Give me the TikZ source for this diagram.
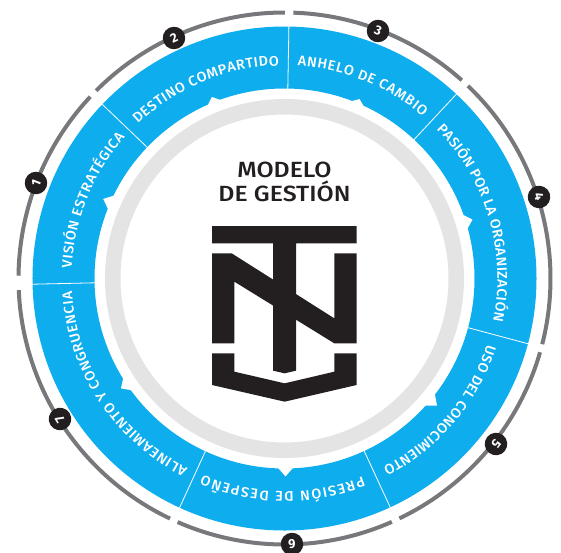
\documentclass[tikz,border=0pt]{standalone}
\usepackage{fontspec}
\usetikzlibrary{decorations.text}
\setmainfont{Fira Sans}
\newfontfamily\ringfont[FakeStretch=1.03]{Fira Sans Medium}
\newfontfamily\titlefont[FakeStretch=1.13]{Fira Sans Medium}
\definecolor{ringblue}{HTML}{0EADEE}
\definecolor{ringgray}{HTML}{E4E4E4}
\definecolor{linegray}{HTML}{77787B}
\definecolor{logoblack}{HTML}{231F20}
\tikzset{
  outerarc/.style={draw=linegray,line width=4pt,line cap=butt},
  divider/.style={draw=white,line width=0.8pt},
  notch/.style={fill=white},
  badge/.style={circle,fill=logoblack,text=white,minimum size=22.5pt,inner sep=0pt,font=\bfseries\fontsize{13}{13}\selectfont},
  logopart/.style={fill=logoblack},
  logoscale/.style={shift={(-84.5pt,128.5pt)},x=0.33333pt,y=-0.33333pt},
  ringtext/.style={decorate,decoration={text along path,raise=0pt,text align={fit to path},
    text={|\ringfont\fontsize{14}{14}\selectfont\color{white}|#1}}},
  title/.style={align=center,text=logoblack,font=\titlefont\fontsize{22}{23.3}\selectfont}
}
\begin{document}
\begin{tikzpicture}[x=1pt,y=1pt]
\useasboundingbox (-284.5,-273.5) rectangle (276.5,278.5);
% blue ring
\fill[ringblue,even odd rule] (0,0) circle[radius=252pt] (0,0) circle[radius=190pt];
% gray inner ring
\fill[ringgray,even odd rule] (0,0) circle[radius=179.5pt] (0,0) circle[radius=164pt];
% dividers
\foreach \a in {136.3,89,47,-15,-65.2,-114.6,181.3}
  \draw[divider] (\a:189pt) -- (\a:252.5pt);
% notches
\foreach \a/\h in {156.3/198,111.8/195.5,67.3/194.5,17.4/197,-39.8/198.5,-89.7/198,-146.1/197}
  \fill[notch] ({\a-2.7}:188pt) -- (\a:\h pt) -- ({\a+2.7}:188pt) -- cycle;
% outer line
\foreach \s/\e in {135.1/89.9,88.1/48.2,46.4/-14.3,-16.1/-64.4,-66.2/-113.7,-115.5/-177.5,179.4/136.9}
  \draw[outerarc] (\s:266pt) arc[start angle=\s,end angle=\e,radius=266pt];
% ring texts
\path[ringtext={VISIÓN ESTRATÉGICA}] (177.3:213pt) arc[start angle=177.3,end angle=138.5,radius=213pt];
\path[ringtext={DESTINO COMPARTIDO}] (133.5:213pt) arc[start angle=133.5,end angle=91.5,radius=213pt];
\path[ringtext={ANHELO DE CAMBIO}] (86.5:213pt) arc[start angle=86.5,end angle=49.5,radius=213pt];
\path[ringtext={PASIÓN POR LA ORGANIZACIÓN}] (44.5:213pt) arc[start angle=44.5,end angle=-11.5,radius=213pt];
\path[ringtext={USO DEL CONOCIMIENTO}] (-18:213pt) arc[start angle=-18,end angle=-62.5,radius=213pt];
\path[ringtext={PRESIÓN DE DESPEÑO}] (-68.5:213pt) arc[start angle=-68.5,end angle=-112.5,radius=213pt];
\path[ringtext={ALINEAMIENTO Y CONGRUENCIA}] (-117:213pt) arc[start angle=-117,end angle=-176.5,radius=213pt];
% badges
\node[badge,rotate=69]  (b1) at (-248.5,95.5) {1};
\node[badge,rotate=25]  (b2) at (-110.5,240.5) {2};
\node[badge,rotate=-21] (b3) at (93.5,247.5) {3};
\node[badge,rotate=-72] (b4) at (254.5,81.5) {4};
\node[badge,rotate=-128] (b5) at (211.5,-165.5) {5};
\node[badge,rotate=-177] (b6) at (7.5,-265.5) {6};
\node[badge,rotate=122] (b7) at (-224.5,-140.5) {7};
% title
\node[title] (title) at (0,96.5) {MODELO\\DE GESTIÓN};
% logo
\begin{scope}[logoscale]
  \fill[logopart] (36,228) -- (470,228) -- (470,280) -- (288,280) -- (288,662) -- (254,670) -- (219,662) -- (219,280) -- (36,280) -- cycle;
  \fill[logopart] (36,310) -- (95,310) -- (403,505) -- (403,310) -- (470,310) -- (470,580) -- (403,580) -- (103,395) -- (103,580) -- (36,580) -- cycle;
  \fill[logopart] (36,610) -- (103,610) -- (103,665) -- (254,700) -- (403,665) -- (403,610) -- (470,610) -- (470,705) -- (254,755) -- (36,705) -- cycle;
\end{scope}
\end{tikzpicture}
\end{document}
